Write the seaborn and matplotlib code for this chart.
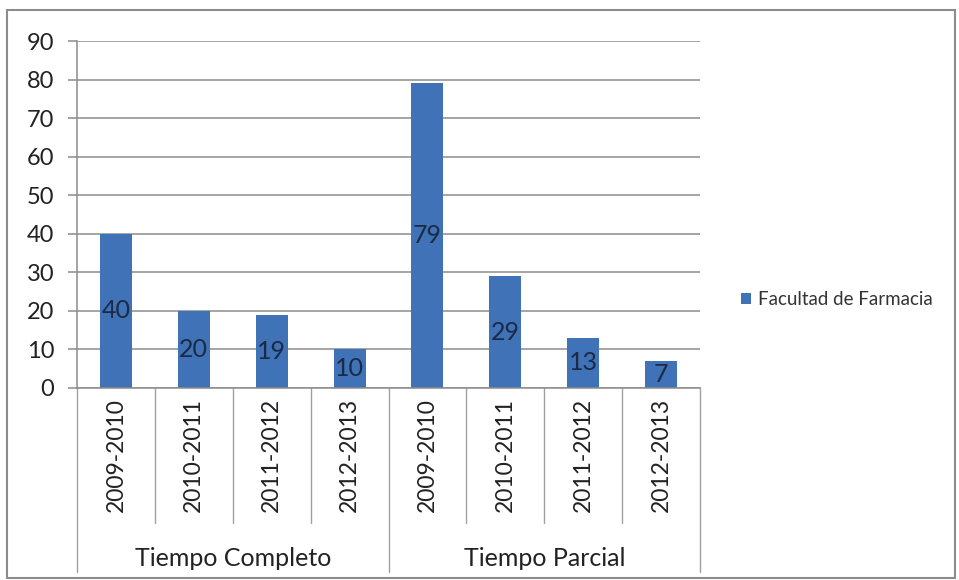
import pandas as pd
import seaborn as sns
import matplotlib.pyplot as plt
from matplotlib.patches import Rectangle

groups = ["Tiempo Completo", "Tiempo Parcial"]
years = ["2009-2010", "2010-2011", "2011-2012", "2012-2013"]
completo = [40, 20, 19, 10]
parcial = [79, 29, 13, 7]
series_name = "Facultad de Farmacia"

rows = []
for g, vals in zip(groups, [completo, parcial]):
    for y, v in zip(years, vals):
        rows.append({"key": g + " " + y, "year": y, "group": g, "value": v})
df = pd.DataFrame(rows)

sns.set_style("white")
plt.rcParams["font.family"] = ["Lato", "DejaVu Sans"]

fig = plt.figure(figsize=(9.59, 5.80), dpi=100)
ax = fig.add_axes([77 / 959, 1 - 388 / 580, (700 - 77) / 959, (388 - 41) / 580])

bar_color = "#3F72B6"
sns.barplot(data=df, x="key", y="value", color=bar_color, width=0.41,
            label=series_name, ax=ax, saturation=1, linewidth=0)
if ax.get_legend() is not None:
    ax.get_legend().remove()

ax.bar_label(ax.containers[0], label_type="center", fontsize=18, color="#1B2A45")

ax.set_ylim(0, 90)
ax.set_yticks(range(0, 91, 10))
ax.set_xlim(-0.5, len(df) - 0.5)
ax.yaxis.grid(True, color="#8C8C8C", linewidth=1.1)
ax.set_axisbelow(True)
ax.set_xlabel("")
ax.set_ylabel("")

for s in ["top", "right"]:
    ax.spines[s].set_visible(False)
for s in ["left", "bottom"]:
    ax.spines[s].set_color("#8C8C8C")
    ax.spines[s].set_linewidth(1.1)

ax.tick_params(axis="y", length=6.5, width=1.1, color="#8C8C8C", pad=10,
               labelsize=17, labelcolor="#222222", left=True)
ax.set_xticks(range(len(df)))
ax.set_xticklabels(df["year"], rotation=90, fontsize=16.5, color="#222222")
ax.tick_params(axis="x", length=0, pad=7)

# multi-level category axis
trans = ax.get_xaxis_transform()
for i in range(len(df) + 1):
    pos = i - 0.5
    bottom = -0.53 if i % len(years) == 0 else -0.389
    ax.plot([pos, pos], [0, bottom], transform=trans, color="#A0A0A0",
            linewidth=1.0, clip_on=False)
for k, g in enumerate(groups):
    center = k * len(years) + (len(years) - 1) / 2
    ax.text(center, -0.49, g, transform=trans, ha="center", va="center",
            fontsize=18, color="#222222")

fig.legend(loc="center left", bbox_to_anchor=(0.755, 0.483), frameon=False,
           handlelength=0.55, handleheight=0.55, handletextpad=0.35, fontsize=13.5,
           labelcolor="#333333")

fig.patches.append(Rectangle((7 / 959, 2 / 580), 948 / 959, 568 / 580,
                             transform=fig.transFigure, fill=False,
                             edgecolor="#8C8C8C", linewidth=1.5))

plt.savefig("out.png", dpi=100)
